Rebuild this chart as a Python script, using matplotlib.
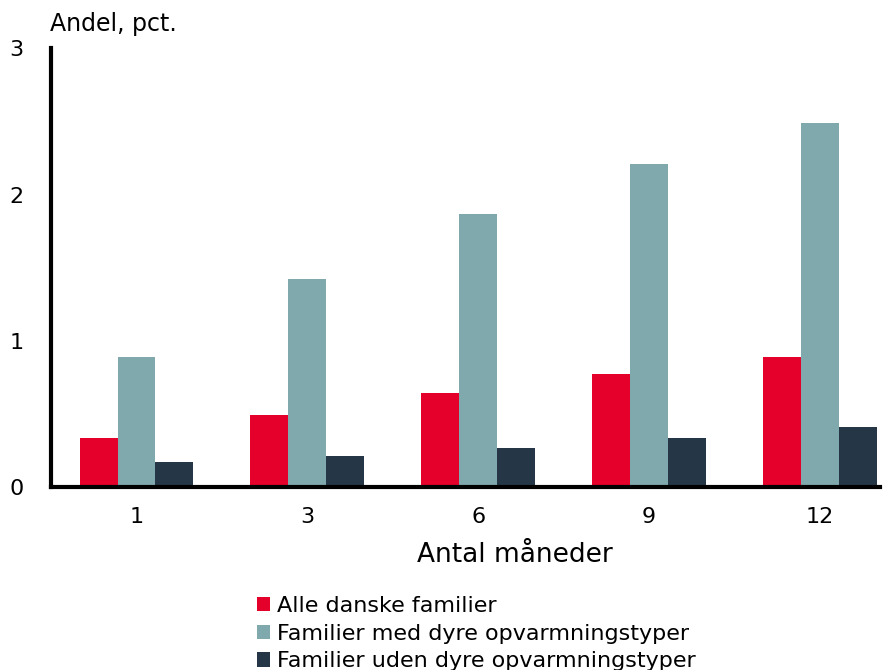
import numpy as np
import matplotlib
matplotlib.use('Agg')
import matplotlib.pyplot as plt

months = ['1', '3', '6', '9', '12']
alle = [0.335, 0.49, 0.64, 0.77, 0.89]
dyre = [0.89, 1.42, 1.87, 2.21, 2.49]
uden = [0.17, 0.21, 0.27, 0.335, 0.41]

series_names = ['Alle danske familier',
                'Familier med dyre opvarmningstyper',
                'Familier uden dyre opvarmningstyper']
colors = ['#E4002B', '#80A9AE', '#253746']

plt.rcParams['font.family'] = ['DejaVu Sans']

fig = plt.figure(figsize=(8.96, 6.70), dpi=100)
ax = fig.add_axes([0.057, 0.273, 0.925, 0.655])

x = np.arange(len(months))
w = 0.222
handles = []
for i, (vals, name, c) in enumerate(zip([alle, dyre, uden], series_names, colors)):
    b = ax.bar(x + (i - 1) * w, vals, width=w, color=c, label=name)
    handles.append(b)

ax.set_xlim(-0.5, 4.35)
ax.set_ylim(0, 3)
ax.set_yticks([0, 1, 2, 3])
ax.set_xticks(x)
ax.set_xticklabels(months)
ax.tick_params(axis='both', length=0, labelsize=16)
ax.tick_params(axis='y', pad=20)
ax.tick_params(axis='x', pad=14)
for s in ['top', 'right']:
    ax.spines[s].set_visible(False)
for s in ['left', 'bottom']:
    ax.spines[s].set_linewidth(3)
    ax.spines[s].set_color('black')

ax.set_xlabel('Antal måneder', fontsize=19, labelpad=8)
ax.xaxis.set_label_coords(0.56, -0.125)
fig.text(0.056, 0.947, 'Andel, pct.', fontsize=17, ha='left', va='bottom')

fig.legend(handles=handles, loc='upper left', bbox_to_anchor=(0.277, 0.124),
           frameon=False, fontsize=16, handlelength=0.6, handleheight=0.6,
           handletextpad=0.3, labelspacing=0.35, borderaxespad=0)

fig.savefig('out.png', dpi=100)
